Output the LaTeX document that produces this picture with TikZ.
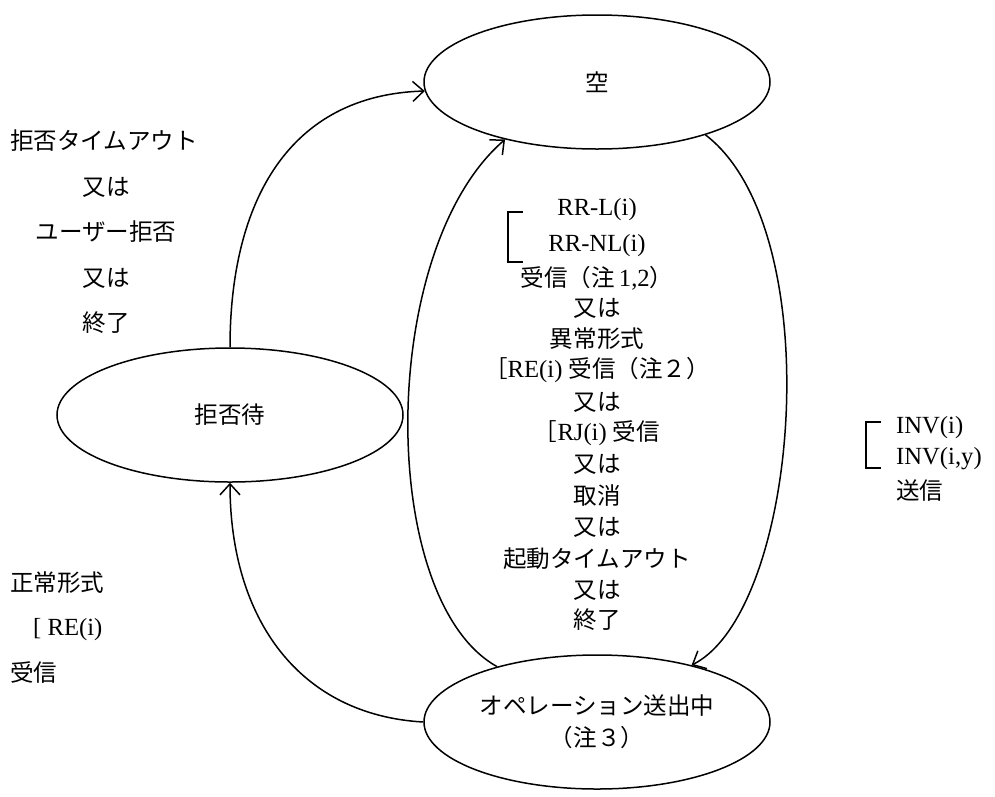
\documentclass[tikz,border=0pt]{standalone}
\usepackage{fontspec}
\setmainfont{Liberation Serif}[Scale=1.12]
\newfontfamily\cjk{Noto Sans CJK JP}[Scale=1.07]
\usetikzlibrary{shapes.geometric,arrows.meta}
\newcommand\J[1]{{\cjk #1}}
\begin{document}
\begin{tikzpicture}[x=1pt,y=-1pt,
  st/.style={draw, ellipse, line width=1.5pt, minimum width=346pt, minimum height=134pt, inner sep=0pt, font=\fontsize{22}{32}\selectfont, align=center},
  lbl/.style={font=\fontsize{22}{26}\selectfont, inner sep=0pt},
  conn/.style={line width=1.5pt, -{Straight Barb[length=11pt,width=20pt,line width=1.5pt]}},
  brk/.style={line width=1.5pt}]
\useasboundingbox (0,0) rectangle (995,796);

% states
\node[st] (empty) at (597,82) {\J{空}};
\node[st] (rej) at (230,415) {\J{拒否待}};
\node[st] (op) at (597,722) {\J{オペレーション送出中}\\\J{（注３）}};

% connectors
\draw[conn] (rej.north) .. controls (230,200) and (290,95) .. (empty.183);
\draw[conn] (op.151) .. controls (377,600) and (377,250) .. (empty.212);
\draw[conn] (empty.334) .. controls (830,230) and (800,610) .. (op.31);
\draw[conn] (op.west) .. controls (300,715) and (230,620) .. (rej.south);

% left top label
\node[lbl] (a1) at (104,141) {\J{拒否タイムアウト}};
\node[lbl] (a2) at (106,187) {\J{又は}};
\node[lbl] (a3) at (106,232) {\J{ユーザー拒否}};
\node[lbl] (a4) at (106,278) {\J{又は}};
\node[lbl] (a5) at (106,323) {\J{終了}};

% middle label
\node[lbl] (m1) at (597,210) {RR-L(i)};
\node[lbl] (m2) at (597,246) {RR-NL(i)};
\node[lbl] (m3) at (597,278) {\J{受信（注}\,1,2\J{）}};
\node[lbl] (m4) at (597,308) {\J{又は}};
\node[lbl] (m5) at (597,339) {\J{異常形式}};
\node[lbl] (m6) at (597,370) {\J{［}RE(i)\ \J{受信（注２）}};
\node[lbl] (m7) at (597,402) {\J{又は}};
\node[lbl] (m8) at (597,433) {\J{［}RJ(i)\ \J{受信}};
\node[lbl] (m9) at (597,464) {\J{又は}};
\node[lbl] (m10) at (597,496) {\J{取消}};
\node[lbl] (m11) at (597,527) {\J{又は}};
\node[lbl] (m12) at (597,559) {\J{起動タイムアウト}};
\node[lbl] (m13) at (597,590) {\J{又は}};
\node[lbl] (m14) at (597,620) {\J{終了}};
\draw[brk] (523,212) -- (508,212) -- (508,262) -- (523,262);

% left bottom label
\node[lbl, anchor=west] (b1) at (10,583) {\J{正常形式}};
\node[lbl, anchor=west] (b2) at (33,630) {[ RE(i)};
\node[lbl, anchor=west] (b3) at (10,672) {\J{受信}};

% right label
\node[lbl, anchor=west] (r1) at (896,428) {INV(i)};
\node[lbl, anchor=west] (r2) at (896,459) {INV(i,y)};
\node[lbl, anchor=west] (r3) at (896,491) {\J{送信}};
\draw[brk] (881,422) -- (866,422) -- (866,468) -- (881,468);
\end{tikzpicture}
\end{document}
